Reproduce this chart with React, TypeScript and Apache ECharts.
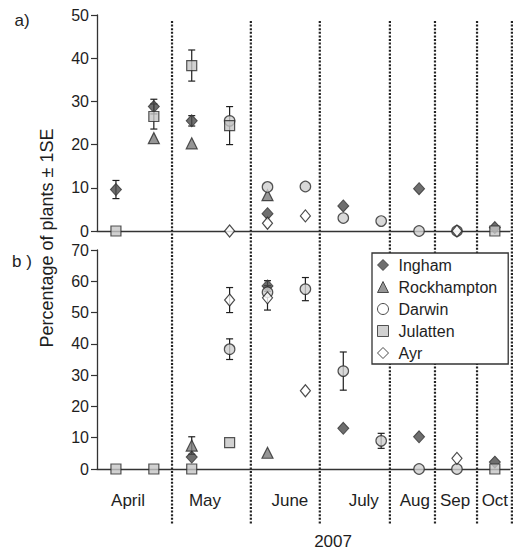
import React, { useEffect, useRef } from 'react';
import * as echarts from 'echarts';

// ---- labels / positions on the sampling axis ----
const monthLabels = ['April', 'May', 'June', 'July', 'Aug', 'Sep', 'Oct'];
const monthLabelPos = [1.32, 3.35, 5.59, 7.54, 8.89, 9.95, 11.0];
const dividerPos = [2.48, 4.56, 6.38, 8.23, 9.42, 10.53, 11.45];
const yearLabel = '2007';
const yearLabelPos = 6.73;
const yTicksA = [0, 50, 10];
const yTicksB = [0, 70, 10];

const seriesNames = ['Ingham', 'Rockhampton', 'Darwin', 'Julatten', 'Ayr'];

// ---- panel a) : [sample, percentage, SE] ----
const inghamA = [[1, 9.6, 2.1], [2, 28.8, 1.7], [3, 25.5, 1.2], [5, 4.0, 0], [7, 5.8, 0], [9, 9.8, 0], [11, 0.8, 0]];
const rockhamptonA = [[2, 21.5, 0], [3, 20.3, 0], [5, 8.3, 0]];
const darwinA = [[4, 25.5, 0], [5, 10.2, 0], [6, 10.3, 0], [7, 3.0, 0], [8, 2.3, 0], [9, 0, 0], [10, 0, 0]];
const julattenA = [[1, 0, 0], [2, 26.5, 2.9], [3, 38.3, 3.6], [4, 24.4, 4.4], [11, 0, 0]];
const ayrA = [[4, 0, 0], [5, 1.8, 0], [6, 3.5, 0], [10, 0, 0]];

// ---- panel b) ----
const inghamB = [[3, 3.8, 0], [5, 58.5, 1.7], [7, 13.0, 0], [9, 10.3, 0], [11, 2.2, 0]];
const rockhamptonB = [[3, 7.5, 2.8], [5, 5.2, 0]];
const darwinB = [[4, 38.3, 3.3], [5, 56.5, 0], [6, 57.5, 3.7], [7, 31.3, 6.1], [8, 9.0, 2.4], [9, 0, 0], [10, 0, 0]];
const julattenB = [[1, 0, 0], [2, 0, 0], [3, 0, 0], [4, 8.4, 0], [11, 0, 0]];
const ayrB = [[4, 54.0, 4.0], [5, 54.7, 3.9], [6, 25.0, 0], [10, 3.4, 0]];

const panelA = [inghamA, rockhamptonA, darwinA, julattenA, ayrA];
const panelB = [inghamB, rockhamptonB, darwinB, julattenB, ayrB];

const FONT = "'Liberation Sans', Arial, Helvetica, sans-serif";
const INK = '#1e1e1e';

const styles: any[] = [
  { symbol: 'diamond', symbolSize: [11, 12], itemStyle: { color: '#4a4a4a', borderColor: '#333', borderWidth: 1 } },
  { symbol: 'triangle', symbolSize: [11, 11], itemStyle: { color: '#7c7c7c', borderColor: '#2a2a2a', borderWidth: 1.2 } },
  { symbol: 'circle', symbolSize: 10.5, itemStyle: { color: '#d0d0d0', borderColor: '#2a2a2a', borderWidth: 1.2 } },
  { symbol: 'rect', symbolSize: 10, itemStyle: { color: '#c6c6c6', borderColor: '#2a2a2a', borderWidth: 1.2 } },
  { symbol: 'diamond', symbolSize: [10, 12], itemStyle: { color: '#ffffff', borderColor: '#1e1e1e', borderWidth: 1.2 } },
];

function errorBars(panel: number[][][]) {
  const out: number[][] = [];
  panel.forEach((s) => s.forEach(([x, v, e]) => { if (e > 0) out.push([x, v - e, v + e]); }));
  return out;
}

const renderErr = (params: any, api: any) => {
  const x = api.value(0);
  const p1 = api.coord([x, api.value(2)]);
  const p2 = api.coord([x, api.value(1)]);
  const w = 3.5;
  const st = { stroke: INK, lineWidth: 1.2 };
  return {
    type: 'group',
    children: [
      { type: 'line', shape: { x1: p1[0], y1: p1[1], x2: p2[0], y2: p2[1] }, style: st },
      { type: 'line', shape: { x1: p1[0] - w, y1: p1[1], x2: p1[0] + w, y2: p1[1] }, style: st },
      { type: 'line', shape: { x1: p2[0] - w, y1: p2[1], x2: p2[0] + w, y2: p2[1] }, style: st },
    ],
  };
};

export default function App() {
  const ref = useRef<HTMLDivElement>(null);
  useEffect(() => {
    document.body.style.margin = '0';
    const chart = echarts.init(ref.current!, null, { renderer: 'svg' });

    const xAxisBase = (gi: number) => ({
      type: 'value', gridIndex: gi, min: 0.5, max: 11.4,
      axisLine: { show: true, lineStyle: { color: '#333', width: 1.3 } },
      axisTick: { show: false }, axisLabel: { show: false }, splitLine: { show: false },
    });
    const yAxisBase = (gi: number, t: number[]) => ({
      type: 'value', gridIndex: gi, min: t[0], max: t[1], interval: t[2],
      axisLine: { show: true, lineStyle: { color: '#333', width: 1.3 } },
      axisTick: { show: true, length: 6, lineStyle: { color: '#333', width: 1.2 } },
      axisLabel: { color: INK, fontSize: 16, fontFamily: FONT, margin: 8 },
      splitLine: { show: false },
    });

    const series: any[] = [];
    [panelA, panelB].forEach((panel, gi) => {
      series.push({
        type: 'custom', xAxisIndex: gi, yAxisIndex: gi, z: 1,
        renderItem: renderErr, encode: { x: 0, y: [1, 2] }, data: errorBars(panel), silent: true,
      });
      panel.forEach((data, si) => {
        series.push({
          type: 'scatter', name: seriesNames[si], xAxisIndex: gi, yAxisIndex: gi, z: 3 + si,
          data: data.map((d) => [d[0], d[1]]), ...styles[si],
        });
      });
    });

    const option: any = {
      animation: false,
      grid: [
        { left: 97, right: 10, top: 15, height: 216 },
        { left: 97, right: 10, top: 250, height: 219 },
      ],
      xAxis: [xAxisBase(0), xAxisBase(1)],
      yAxis: [yAxisBase(0, yTicksA), yAxisBase(1, yTicksB)],
      legend: {
        orient: 'vertical', left: 372, top: 253,
        padding: [4, 11, 3, 5], itemGap: 6, itemWidth: 11, itemHeight: 11,
        borderColor: '#333', borderWidth: 1.3, backgroundColor: '#fff',
        selectedMode: false,
        textStyle: { color: INK, fontSize: 16, fontFamily: FONT, padding: [0, 0, 0, 5] },
        data: seriesNames.map((n, i) => ({
          name: n, icon: styles[i].symbol,
          itemStyle: i === 2 ? { color: '#ffffff', borderColor: '#1e1e1e', borderWidth: 1 } : { ...styles[i].itemStyle, borderWidth: 1 },
        })),
      },
      series,
    };
    chart.setOption(option);

    const px = (v: number) => chart.convertToPixel({ xAxisIndex: 1 }, v) as number;
    const y0 = chart.convertToPixel({ yAxisIndex: 1 }, 0) as number;
    const txt = (text: string, x: number, y: number, size: number, extra: any = {}) => ({
      type: 'text', x, y, ...extra,
      style: { text, fill: INK, font: `${size}px ${FONT}`, textAlign: 'center', textVerticalAlign: 'middle', align: 'center', verticalAlign: 'middle' },
    });
    const graphic: any[] = [];
    dividerPos.forEach((v) => {
      const x = px(v);
      graphic.push({
        type: 'line', z: 0, silent: true,
        shape: { x1: x, y1: 21, x2: x, y2: 525 },
        style: { stroke: '#222', lineWidth: 2.2, lineDash: [2, 1.6] },
      });
    });
    monthLabels.forEach((m, i) => graphic.push(txt(m, px(monthLabelPos[i]), y0 + 31, 17)));
    graphic.push(txt(yearLabel, px(yearLabelPos), y0 + 72, 17));
    graphic.push(txt('a)', 22, 20, 17));
    graphic.push(txt('b )', 22, 261, 17));
    graphic.push(txt('Percentage of plants ± 1SE', 47, 238, 18, { rotation: Math.PI / 2 }));
    chart.setOption({ graphic });

    return () => chart.dispose();
  }, []);
  return <div ref={ref} style={{ width: 520, height: 551 }} />;
}
